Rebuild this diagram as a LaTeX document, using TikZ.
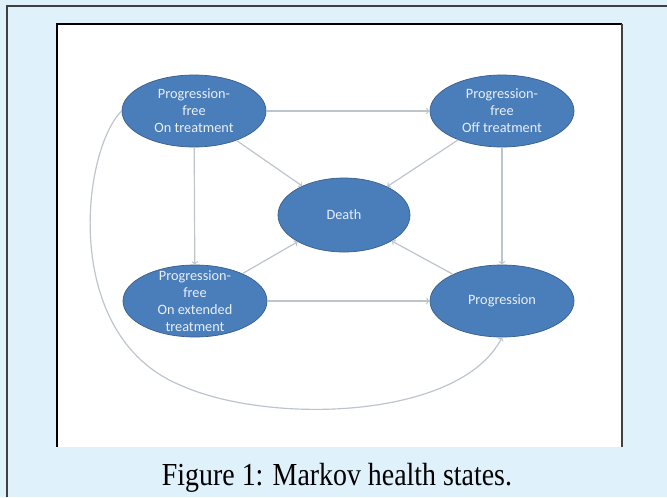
\documentclass[tikz,border=0pt]{standalone}
\usepackage{fontspec}
\setmainfont{Liberation Serif}
\newfontfamily\bodyfont{Carlito}
\usepackage{tikz}
\usetikzlibrary{shapes.geometric}

\definecolor{panelblue}{HTML}{DFF1FB}
\definecolor{statefill}{HTML}{4A7EBB}
\definecolor{stateline}{HTML}{385D8A}
\definecolor{statetext}{HTML}{E8EFF8}
\definecolor{linkgray}{HTML}{BCC4CC}

\begin{document}
\begin{tikzpicture}[
            x=.03cm, y=-.03cm,
            state/.style={ellipse, draw=stateline, fill=statefill, line width=.6pt,
                minimum width=4.32cm, minimum height=2.16cm, inner sep=0pt},
            lbl/.style={font=\bodyfont\fontsize{12.2}{14.5}\selectfont,
                text=statetext, align=center, inner sep=0pt},
            link/.style={->, draw=linkgray, line width=1pt},
            caption/.style={font=\fontsize{23.8}{28}\selectfont, anchor=base},
        ]
            \clip (0,0) rectangle (667,497);

            %% page panel and the pasted figure
            \fill[panelblue] (0,0) rectangle (667,497);
            \draw[line width=1.4pt, draw=black!75] (7,497) -- (7,6) -- (667,6);
            \fill[white] (57,24) rectangle (622,447);
            \draw[line width=2.2pt] (57,447) -- (57,24) -- (622,24);
            \draw[line width=1pt, draw=black!75] (622,24) -- (622,447);

            %% health states
            \node[state] (on) at (194,111) {};
            \node[state] (off) at (502,111) {};
            \node[state, minimum width=3.96cm, minimum height=2.22cm] (death) at (344,215) {};
            \node[state] (ext) at (195,301) {};
            \node[state] (prog) at (502,301) {};

            \node[lbl] (on-txt) at (on) {Progression-\\free\\On treatment};
            \node[lbl] (off-txt) at (off) {Progression-\\free\\Off treatment};
            \node[lbl] (death-txt) at (death) {Death};
            \node[lbl] (ext-txt) at (ext) {Progression-\\free\\On extended\\treatment};
            \node[lbl] (prog-txt) at (prog) {Progression};

            %% transitions
            \draw[link] (on) -- (off);
            \draw[link] (on) -- (ext);
            \draw[link] (off) -- (prog);
            \draw[link] (ext) -- (prog);
            \foreach \s in {on, off, ext, prog}{
                \draw[link] (\s) -- (death);
            }
            \draw[link] (on.west) .. controls (82,150) and (60,335) .. (180,385)
                .. controls (268,425) and (460,420) .. (prog.south);

            \node[caption] (cap) at (337,485) {\scalebox{1}[1.15]{Figure 1: Markov health states.}};
        \end{tikzpicture}
\end{document}
